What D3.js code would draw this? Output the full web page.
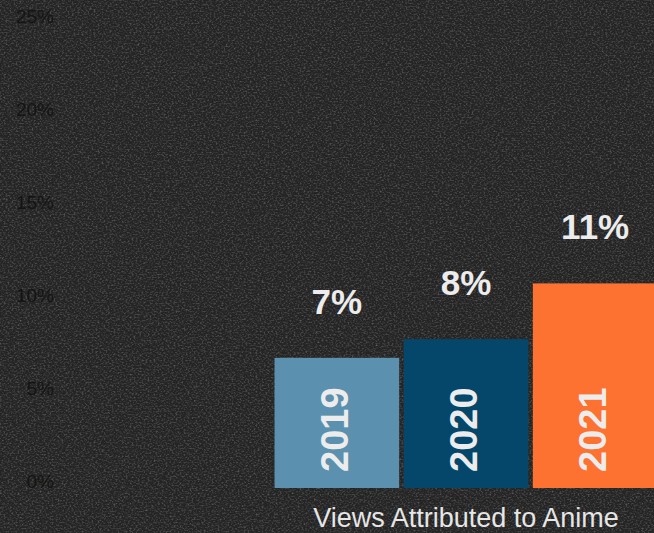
<!DOCTYPE html>
<html>
<head>
<meta charset="utf-8">
<script src="https://cdn.jsdelivr.net/npm/d3@7"></script>
<style>
  html, body { margin: 0; padding: 0; background: #262626; }
  svg { display: block; }
</style>
</head>
<body>
<svg id="chart" width="654" height="533"></svg>
<script>
// Share of views attributed to anime, by year
const years = ["2019", "2020", "2021"];
const shares = [7, 8, 11];              // percent
const barColors = ["#5b90ae", "#04476a", "#fd7131"];
const yTicks = [0, 5, 10, 15, 20, 25];
const axisTitle = "Views Attributed to Anime";

const W = 654, H = 533;
const svg = d3.select("#chart");

// Fabric-like grain for the dark backdrop
const defs = svg.append("defs");
const grain = defs.append("filter").attr("id", "grain")
  .attr("x", 0).attr("y", 0).attr("width", "100%").attr("height", "100%");
grain.append("feTurbulence")
  .attr("type", "fractalNoise").attr("baseFrequency", "0.5 0.65")
  .attr("numOctaves", 3).attr("seed", 7).attr("stitchTiles", "stitch");
grain.append("feColorMatrix").attr("type", "matrix")
  .attr("values", "0 0 0 0 1  0 0 0 0 1  0 0 0 0 1  1.8 0 0 0 -0.8");

svg.append("rect").attr("width", W).attr("height", H).attr("fill", "#242424");
svg.append("rect").attr("width", W).attr("height", H)
  .attr("filter", "url(#grain)").attr("opacity", 0.3);

const x = d3.scaleBand().domain(years).range([270, 662]).padding(0.035);
const y = d3.scaleLinear().domain([0, 25]).range([488, 23]);
const color = d3.scaleOrdinal().domain(years).range(barColors);

const data = years.map((yr, i) => ({ year: yr, value: shares[i] }));

// Y axis: labels only, no domain line or tick marks
const yAxis = d3.axisLeft(y).tickValues(yTicks)
  .tickFormat(d => d + "%").tickSize(0).tickPadding(0);
const gy = svg.append("g").attr("transform", "translate(54,0)").call(yAxis);
gy.select(".domain").remove();
gy.selectAll("text")
  .attr("dy", "-0.05em")
  .attr("fill", "#141414")
  .style("font-family", "'Liberation Sans', Arial, sans-serif")
  .style("font-size", "19px");

// Bars
svg.append("g").selectAll("rect").data(data).join("rect")
  .attr("x", d => x(d.year))
  .attr("y", d => y(d.value))
  .attr("width", x.bandwidth())
  .attr("height", d => y(0) - y(d.value))
  .attr("fill", d => color(d.year));

// Value labels above bars
svg.append("g").selectAll("text").data(data).join("text")
  .attr("x", d => x(d.year) + x.bandwidth() / 2)
  .attr("y", d => y(d.value) - 44)
  .attr("text-anchor", "middle")
  .attr("fill", "#ececec")
  .style("font-family", "'Liberation Sans', Arial, sans-serif")
  .style("font-weight", "bold")
  .style("font-size", "35px")
  .text(d => d.value + "%");

// Year labels rotated inside bars
svg.append("g").selectAll("text").data(data).join("text")
  .attr("transform", d => `translate(${x(d.year) + x.bandwidth() / 2 - 3},${y(0) - 16}) rotate(-90)`)
  .attr("dy", "0.36em")
  .attr("text-anchor", "start")
  .attr("fill", "#ececec")
  .style("font-family", "'Liberation Sans', Arial, sans-serif")
  .style("font-weight", "bold")
  .style("font-size", "38px")
  .text(d => d.year);

// Axis title under the bars
svg.append("text")
  .attr("x", (x.range()[0] + x.range()[1]) / 2)
  .attr("y", 527)
  .attr("text-anchor", "middle")
  .attr("fill", "#e6e6e6")
  .style("font-family", "'Liberation Sans', Arial, sans-serif")
  .style("font-size", "27px")
  .text(axisTitle);
</script>
</body>
</html>
